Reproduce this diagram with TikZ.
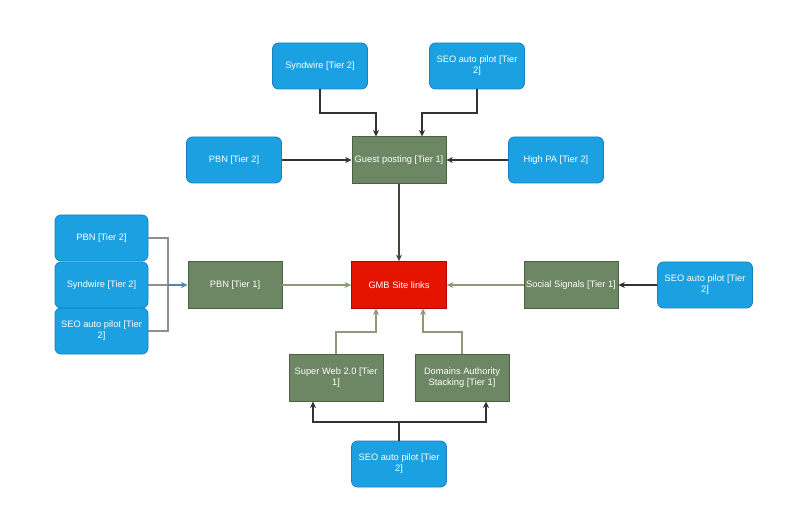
\documentclass[tikz,border=0pt]{standalone}
\usepackage{fontspec}
\setmainfont{Liberation Sans}
\usetikzlibrary{arrows.meta}
\definecolor{bluefill}{HTML}{1BA1E2}
\definecolor{bluedraw}{HTML}{1A7FBF}
\definecolor{greenfill}{HTML}{6D8764}
\definecolor{greendraw}{HTML}{4A6041}
\definecolor{redfill}{HTML}{E51400}
\definecolor{reddraw}{HTML}{B20000}
\definecolor{darkline}{HTML}{333333}
\definecolor{oliveline}{HTML}{8C9A78}
\definecolor{dkgreenline}{HTML}{3B4A3B}
\definecolor{grayline}{HTML}{8E8E8E}
\definecolor{bluearrow}{HTML}{4F86B5}
\tikzset{
  every node/.style={font=\fontsize{9.3}{11}\selectfont, text=white, align=center, inner sep=1pt},
  tiertwo/.style={draw=bluedraw, fill=bluefill, rounded corners=6pt, minimum width=95pt, minimum height=46pt, line width=0.8pt},
  tierone/.style={draw=greendraw, fill=greenfill, minimum width=94pt, minimum height=47pt, line width=0.8pt},
  target/.style={draw=reddraw, fill=redfill, minimum width=95pt, minimum height=47pt, line width=0.8pt},
  conn/.style={line width=1.1pt, -{Stealth[length=6.5pt,width=6pt]}},
}
\begin{document}
\begin{tikzpicture}[x=1pt,y=-1pt]
\useasboundingbox (0,0) rectangle (800,510);
\fill[white] (0,0) rectangle (800,510);
% top
\node[tiertwo] (syn1) at (320,66) {Syndwire [Tier 2]};
\node[tiertwo] (seo1) at (477,66) {SEO auto pilot [Tier\\ 2]};
\node[tierone] (guest) at (399,160) {Guest posting [Tier 1]};
\node[tiertwo] (pbn2a) at (234,160) {PBN [Tier 2]};
\node[tiertwo] (highpa) at (556,160) {High PA [Tier 2]};
% middle
\node[target] (gmb) at (399,285) {GMB Site links};
\node[tierone] (pbn1) at (235,285) {PBN [Tier 1]};
\node[tierone] (social) at (571,285) {Social Signals [Tier 1]};
\node[tiertwo] (seo2) at (705,285) {SEO auto pilot [Tier\\ 2]};
% left column
\node[tiertwo, minimum width=93pt] (seo3) at (101.5,331) {SEO auto pilot [Tier\\ 2]};
\node[tiertwo, minimum width=93pt] (syn2) at (101.5,285) {Syndwire [Tier 2]};
\node[tiertwo, minimum width=93pt] (pbn2b) at (101.5,238) {PBN [Tier 2]};
% bottom
\node[tierone] (superweb) at (336,378) {Super Web 2.0 [Tier\\ 1]};
\node[tierone] (domains) at (462,378) {Domains Authority\\ Stacking [Tier 1]};
\node[tiertwo] (seo4) at (399,464) {SEO auto pilot [Tier\\ 2]};
% helper coordinates
\coordinate (jl) at (168,285);
\coordinate (jb) at (399,422);
% connectors top
\draw[conn, draw=darkline] (syn1.south) |- (376,113) -- (376,136.5);
\draw[conn, draw=darkline] (seo1.south) |- (422,113) -- (422,136.5);
\draw[conn, draw=darkline] (pbn2a.east) -- (guest.west);
\draw[conn, draw=darkline] (highpa.west) -- (guest.east);
\draw[conn, draw=dkgreenline] (guest.south) -- (gmb.north);
% middle
\draw[conn, draw=oliveline] (pbn1.east) -- (gmb.west);
\draw[conn, draw=oliveline] (social.west) -- (gmb.east);
\draw[conn, draw=darkline] (seo2.west) -- (social.east);
% left
\draw[grayline, line width=1.1pt] (pbn2b.east) -| (jl) |- (seo3.east);
\draw[grayline, line width=1.1pt] (syn2.east) -- (jl);
\draw[conn, draw=bluearrow] (jl) -- (pbn1.west);
% bottom
\draw[conn, draw=oliveline] (superweb.north) |- (376,332) -- (376,308.5);
\draw[conn, draw=oliveline] (domains.north) |- (423,332) -- (423,308.5);
\draw[darkline, line width=1.1pt] (seo4.north) -- (jb);
\draw[conn, draw=darkline] (jb) -| (313,401.5);
\draw[conn, draw=darkline] (jb) -| (486,401.5);
\end{tikzpicture}
\end{document}
